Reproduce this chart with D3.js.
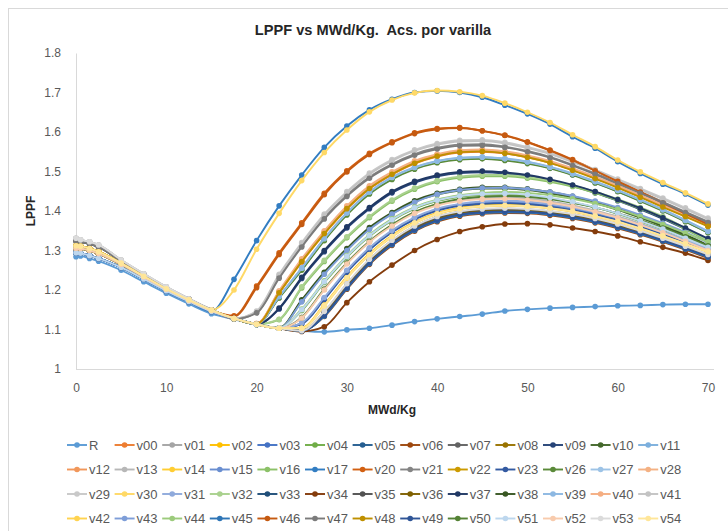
<!DOCTYPE html>
<html><head><meta charset="utf-8">
<script src="https://cdn.jsdelivr.net/npm/d3@7"></script>
<style>
body{margin:0;background:#fff}
svg{display:block}
text{font-family:"Liberation Sans",Arial,sans-serif}
</style></head>
<body><svg id="c" width="728" height="531"></svg>
<script>
const xValues = [0,0.5,1.5,2.5,5,7.5,10,12.5,15,17.5,20,22.5,25,27.5,30,32.5,35,37.5,40,42.5,45,47.5,50,52.5,55,57.5,60,62.5,65,67.5,70];
const xTicks = [0,10,20,30,40,50,60,70];
const yTicks = [1,1.1,1.2,1.3,1.4,1.5,1.6,1.7,1.8];

const R   = [1.284,1.286,1.280,1.273,1.250,1.221,1.192,1.165,1.140,1.126,1.112,1.103,1.097,1.094,1.099,1.103,1.111,1.120,1.127,1.133,1.139,1.147,1.151,1.154,1.156,1.158,1.160,1.161,1.163,1.164,1.164];
const v00 = [1.306,1.305,1.300,1.292,1.265,1.233,1.202,1.174,1.148,1.128,1.114,1.192,1.271,1.342,1.405,1.456,1.492,1.520,1.538,1.548,1.550,1.546,1.536,1.522,1.504,1.483,1.460,1.436,1.412,1.387,1.363];
const v01 = [1.325,1.322,1.317,1.309,1.273,1.239,1.206,1.177,1.150,1.128,1.113,1.103,1.097,1.144,1.214,1.276,1.324,1.360,1.384,1.397,1.403,1.405,1.403,1.398,1.390,1.379,1.365,1.348,1.329,1.309,1.288];
const v02 = [1.312,1.311,1.305,1.297,1.268,1.235,1.203,1.175,1.149,1.128,1.113,1.103,1.104,1.163,1.233,1.292,1.338,1.372,1.395,1.408,1.414,1.416,1.414,1.409,1.401,1.389,1.375,1.358,1.339,1.319,1.299];
const v03 = [1.294,1.293,1.287,1.280,1.257,1.228,1.198,1.171,1.146,1.128,1.113,1.181,1.252,1.327,1.392,1.445,1.482,1.508,1.524,1.532,1.534,1.530,1.522,1.509,1.492,1.472,1.450,1.426,1.401,1.374,1.346];
const v04 = [1.306,1.305,1.300,1.292,1.265,1.233,1.202,1.174,1.148,1.128,1.113,1.104,1.148,1.219,1.283,1.336,1.376,1.406,1.425,1.436,1.441,1.442,1.439,1.432,1.422,1.409,1.393,1.374,1.353,1.330,1.307];
const v05 = [1.294,1.293,1.287,1.280,1.257,1.228,1.198,1.171,1.146,1.128,1.113,1.103,1.097,1.137,1.207,1.270,1.318,1.354,1.378,1.392,1.398,1.400,1.399,1.394,1.386,1.375,1.361,1.345,1.327,1.307,1.286];
const v06 = [1.306,1.305,1.300,1.292,1.265,1.233,1.202,1.174,1.148,1.128,1.113,1.103,1.097,1.133,1.202,1.265,1.313,1.349,1.373,1.387,1.393,1.395,1.394,1.389,1.381,1.370,1.356,1.340,1.322,1.302,1.281];
const v07 = [1.325,1.322,1.317,1.309,1.273,1.239,1.206,1.177,1.150,1.128,1.113,1.103,1.097,1.145,1.215,1.277,1.325,1.361,1.385,1.398,1.404,1.406,1.404,1.399,1.391,1.380,1.366,1.349,1.330,1.310,1.289];
const v08 = [1.312,1.311,1.305,1.297,1.268,1.235,1.203,1.175,1.149,1.128,1.113,1.103,1.097,1.139,1.209,1.272,1.320,1.356,1.380,1.394,1.400,1.402,1.401,1.396,1.388,1.377,1.363,1.347,1.329,1.309,1.288];
const v09 = [1.294,1.293,1.287,1.280,1.257,1.228,1.198,1.171,1.146,1.128,1.113,1.152,1.229,1.297,1.357,1.406,1.446,1.472,1.488,1.496,1.498,1.495,1.488,1.477,1.463,1.446,1.426,1.404,1.380,1.354,1.327];
const v10 = [1.306,1.305,1.300,1.292,1.265,1.233,1.202,1.174,1.148,1.128,1.113,1.104,1.172,1.242,1.302,1.355,1.393,1.423,1.442,1.452,1.457,1.457,1.453,1.445,1.434,1.420,1.403,1.383,1.361,1.337,1.311];
const v11 = [1.294,1.293,1.287,1.280,1.257,1.228,1.198,1.171,1.146,1.128,1.113,1.182,1.254,1.329,1.394,1.447,1.484,1.509,1.525,1.533,1.535,1.531,1.523,1.510,1.493,1.473,1.451,1.427,1.402,1.375,1.347];
const v12 = [1.306,1.305,1.300,1.292,1.265,1.233,1.202,1.174,1.148,1.128,1.115,1.196,1.276,1.347,1.410,1.461,1.497,1.525,1.542,1.552,1.554,1.549,1.539,1.525,1.506,1.485,1.462,1.438,1.414,1.389,1.364];
const v13 = [1.331,1.327,1.322,1.314,1.276,1.241,1.208,1.178,1.150,1.128,1.114,1.104,1.131,1.203,1.269,1.324,1.365,1.397,1.417,1.428,1.433,1.434,1.431,1.424,1.414,1.401,1.386,1.368,1.348,1.326,1.303];
const v14 = [1.312,1.311,1.305,1.297,1.268,1.235,1.203,1.175,1.149,1.128,1.113,1.103,1.104,1.162,1.232,1.291,1.337,1.371,1.394,1.407,1.413,1.415,1.413,1.408,1.400,1.388,1.374,1.357,1.338,1.318,1.298];
const v15 = [1.294,1.293,1.287,1.280,1.257,1.228,1.198,1.171,1.146,1.128,1.113,1.103,1.116,1.179,1.248,1.305,1.349,1.382,1.404,1.416,1.421,1.423,1.420,1.414,1.405,1.393,1.379,1.362,1.343,1.323,1.303];
const v16 = [1.306,1.305,1.300,1.292,1.265,1.233,1.202,1.174,1.148,1.128,1.113,1.125,1.205,1.272,1.332,1.383,1.425,1.455,1.474,1.484,1.488,1.488,1.483,1.474,1.462,1.446,1.427,1.406,1.383,1.354,1.323];
const v17 = [1.294,1.293,1.287,1.280,1.257,1.228,1.198,1.171,1.146,1.227,1.325,1.413,1.491,1.561,1.615,1.656,1.683,1.700,1.704,1.700,1.688,1.668,1.646,1.620,1.588,1.559,1.525,1.495,1.468,1.443,1.415];
const v20 = [1.306,1.305,1.300,1.292,1.265,1.233,1.202,1.174,1.148,1.135,1.210,1.294,1.370,1.445,1.502,1.546,1.575,1.598,1.609,1.611,1.603,1.592,1.575,1.554,1.530,1.503,1.476,1.449,1.422,1.395,1.368];
const v21 = [1.325,1.322,1.317,1.309,1.273,1.239,1.206,1.177,1.150,1.127,1.143,1.233,1.312,1.383,1.440,1.486,1.519,1.544,1.560,1.568,1.569,1.563,1.552,1.537,1.517,1.495,1.471,1.447,1.423,1.398,1.373];
const v22 = [1.312,1.311,1.305,1.297,1.268,1.235,1.203,1.175,1.149,1.128,1.114,1.194,1.274,1.345,1.408,1.459,1.495,1.523,1.541,1.551,1.553,1.548,1.538,1.524,1.505,1.484,1.461,1.437,1.412,1.388,1.362];
const v23 = [1.294,1.293,1.287,1.280,1.257,1.228,1.198,1.171,1.146,1.128,1.113,1.103,1.114,1.176,1.245,1.302,1.346,1.379,1.401,1.413,1.418,1.420,1.417,1.411,1.402,1.390,1.376,1.359,1.340,1.320,1.299];
const v26 = [1.306,1.305,1.300,1.292,1.265,1.233,1.202,1.174,1.148,1.128,1.113,1.180,1.250,1.325,1.390,1.443,1.480,1.506,1.522,1.530,1.532,1.528,1.520,1.508,1.491,1.471,1.449,1.425,1.400,1.373,1.345];
const v27 = [1.294,1.293,1.287,1.280,1.257,1.228,1.198,1.171,1.146,1.128,1.113,1.183,1.255,1.330,1.395,1.448,1.485,1.510,1.526,1.534,1.536,1.532,1.524,1.511,1.494,1.474,1.452,1.428,1.403,1.376,1.348];
const v28 = [1.306,1.305,1.300,1.292,1.265,1.233,1.202,1.174,1.148,1.128,1.115,1.198,1.279,1.350,1.413,1.464,1.499,1.527,1.544,1.554,1.556,1.551,1.541,1.527,1.508,1.487,1.464,1.440,1.415,1.391,1.366];
const v29 = [1.331,1.327,1.322,1.314,1.276,1.241,1.208,1.178,1.150,1.128,1.147,1.240,1.320,1.392,1.449,1.496,1.530,1.555,1.571,1.579,1.580,1.574,1.562,1.547,1.527,1.505,1.481,1.457,1.433,1.408,1.382];
const v30 = [1.312,1.311,1.305,1.297,1.268,1.235,1.203,1.175,1.149,1.200,1.303,1.394,1.477,1.548,1.605,1.651,1.681,1.699,1.705,1.702,1.692,1.673,1.650,1.624,1.593,1.563,1.529,1.499,1.472,1.446,1.418];
const v31 = [1.294,1.293,1.287,1.280,1.257,1.228,1.198,1.171,1.146,1.128,1.113,1.103,1.117,1.181,1.250,1.307,1.351,1.384,1.406,1.418,1.424,1.426,1.424,1.418,1.409,1.397,1.383,1.366,1.347,1.326,1.305];
const v32 = [1.306,1.305,1.300,1.292,1.265,1.233,1.202,1.174,1.148,1.128,1.113,1.126,1.208,1.275,1.335,1.386,1.428,1.458,1.477,1.487,1.491,1.491,1.486,1.477,1.465,1.449,1.430,1.409,1.386,1.357,1.326];
const v33 = [1.294,1.293,1.287,1.280,1.257,1.228,1.198,1.171,1.146,1.128,1.113,1.103,1.097,1.135,1.205,1.268,1.316,1.352,1.376,1.390,1.396,1.398,1.397,1.392,1.384,1.373,1.359,1.343,1.325,1.305,1.284];
const v34 = [1.306,1.305,1.300,1.292,1.265,1.233,1.202,1.174,1.148,1.128,1.113,1.103,1.095,1.107,1.168,1.221,1.263,1.300,1.328,1.348,1.360,1.367,1.368,1.365,1.357,1.348,1.337,1.322,1.308,1.293,1.275];
const v35 = [1.325,1.322,1.317,1.309,1.273,1.239,1.206,1.177,1.150,1.128,1.113,1.103,1.097,1.143,1.213,1.275,1.323,1.359,1.383,1.396,1.402,1.404,1.402,1.397,1.389,1.378,1.364,1.347,1.328,1.308,1.287];
const v36 = [1.312,1.311,1.305,1.297,1.268,1.235,1.203,1.175,1.149,1.128,1.113,1.103,1.097,1.138,1.208,1.271,1.319,1.355,1.379,1.393,1.399,1.401,1.400,1.395,1.387,1.376,1.362,1.346,1.328,1.308,1.287];
const v37 = [1.294,1.293,1.287,1.280,1.257,1.228,1.198,1.171,1.146,1.128,1.113,1.154,1.232,1.300,1.360,1.409,1.449,1.475,1.491,1.499,1.501,1.498,1.491,1.480,1.466,1.449,1.429,1.407,1.383,1.357,1.330];
const v38 = [1.306,1.305,1.300,1.292,1.265,1.233,1.202,1.174,1.148,1.128,1.113,1.104,1.175,1.245,1.305,1.358,1.396,1.426,1.445,1.455,1.460,1.460,1.456,1.448,1.437,1.423,1.406,1.386,1.364,1.340,1.313];
const v39 = [1.294,1.293,1.287,1.280,1.257,1.228,1.198,1.171,1.146,1.128,1.113,1.184,1.256,1.331,1.396,1.449,1.486,1.511,1.527,1.535,1.537,1.533,1.525,1.512,1.495,1.475,1.453,1.429,1.404,1.377,1.349];
const v40 = [1.306,1.305,1.300,1.292,1.265,1.233,1.202,1.174,1.148,1.128,1.114,1.195,1.275,1.346,1.409,1.460,1.496,1.524,1.541,1.551,1.553,1.548,1.538,1.524,1.506,1.485,1.462,1.438,1.413,1.389,1.365];
const v41 = [1.331,1.327,1.322,1.314,1.276,1.241,1.208,1.178,1.150,1.128,1.145,1.237,1.317,1.389,1.446,1.493,1.527,1.552,1.568,1.576,1.577,1.571,1.559,1.544,1.524,1.502,1.478,1.454,1.430,1.405,1.379];
const v42 = [1.312,1.311,1.305,1.297,1.268,1.235,1.203,1.175,1.149,1.128,1.113,1.103,1.103,1.160,1.230,1.289,1.335,1.369,1.392,1.405,1.411,1.413,1.411,1.406,1.398,1.386,1.372,1.355,1.336,1.316,1.296];
const v43 = [1.294,1.293,1.287,1.280,1.257,1.228,1.198,1.171,1.146,1.128,1.113,1.104,1.170,1.240,1.300,1.353,1.392,1.422,1.442,1.453,1.458,1.459,1.455,1.448,1.438,1.425,1.409,1.390,1.369,1.346,1.320];
const v44 = [1.306,1.305,1.300,1.292,1.265,1.233,1.202,1.174,1.148,1.128,1.113,1.104,1.152,1.223,1.287,1.340,1.380,1.410,1.429,1.440,1.446,1.448,1.446,1.440,1.431,1.419,1.404,1.386,1.366,1.344,1.322];
const v45 = [1.294,1.293,1.287,1.280,1.257,1.228,1.198,1.171,1.146,1.128,1.113,1.103,1.097,1.134,1.204,1.267,1.315,1.351,1.375,1.389,1.395,1.397,1.396,1.391,1.383,1.372,1.358,1.342,1.324,1.304,1.283];
const v46 = [1.306,1.305,1.300,1.292,1.265,1.233,1.202,1.174,1.148,1.133,1.206,1.290,1.366,1.441,1.499,1.543,1.573,1.596,1.607,1.610,1.603,1.591,1.574,1.553,1.529,1.502,1.475,1.448,1.420,1.393,1.366];
const v47 = [1.325,1.322,1.317,1.309,1.273,1.239,1.206,1.177,1.150,1.127,1.142,1.230,1.309,1.380,1.437,1.483,1.516,1.541,1.557,1.565,1.566,1.561,1.550,1.535,1.515,1.493,1.469,1.445,1.421,1.396,1.371];
const v48 = [1.312,1.311,1.305,1.297,1.268,1.235,1.203,1.175,1.149,1.128,1.114,1.193,1.272,1.343,1.406,1.457,1.493,1.521,1.539,1.549,1.551,1.546,1.536,1.522,1.503,1.482,1.459,1.435,1.410,1.386,1.361];
const v49 = [1.294,1.293,1.287,1.280,1.257,1.228,1.198,1.171,1.146,1.128,1.113,1.103,1.097,1.136,1.206,1.269,1.317,1.353,1.377,1.391,1.397,1.399,1.398,1.393,1.385,1.374,1.360,1.344,1.326,1.306,1.285];
const v50 = [1.306,1.305,1.300,1.292,1.265,1.233,1.202,1.174,1.148,1.128,1.113,1.103,1.130,1.202,1.268,1.323,1.365,1.397,1.418,1.430,1.436,1.438,1.436,1.430,1.421,1.409,1.394,1.377,1.357,1.335,1.312];
const v51 = [1.294,1.293,1.287,1.280,1.257,1.228,1.198,1.171,1.146,1.128,1.113,1.104,1.150,1.221,1.285,1.338,1.378,1.408,1.427,1.438,1.443,1.444,1.441,1.434,1.423,1.410,1.394,1.375,1.354,1.331,1.308];
const v52 = [1.306,1.305,1.300,1.292,1.265,1.233,1.202,1.174,1.148,1.128,1.113,1.103,1.129,1.200,1.266,1.321,1.362,1.394,1.414,1.425,1.430,1.431,1.428,1.421,1.411,1.398,1.383,1.365,1.345,1.323,1.300];
const v53 = [1.331,1.327,1.322,1.314,1.276,1.241,1.208,1.178,1.150,1.128,1.113,1.103,1.097,1.146,1.216,1.278,1.326,1.362,1.386,1.399,1.405,1.407,1.405,1.400,1.392,1.381,1.367,1.350,1.331,1.311,1.290];
const v54 = [1.312,1.311,1.305,1.297,1.268,1.235,1.203,1.175,1.149,1.128,1.113,1.103,1.103,1.161,1.231,1.290,1.336,1.370,1.393,1.406,1.412,1.414,1.412,1.407,1.399,1.387,1.373,1.356,1.337,1.317,1.297];

const seriesNames = ["R","v00","v01","v02","v03","v04","v05","v06","v07","v08","v09","v10","v11",
  "v12","v13","v14","v15","v16","v17","v20","v21","v22","v23","v26","v27","v28",
  "v29","v30","v31","v32","v33","v34","v35","v36","v37","v38","v39","v40","v41",
  "v42","v43","v44","v45","v46","v47","v48","v49","v50","v51","v52","v53","v54"];
const seriesValues = [R,v00,v01,v02,v03,v04,v05,v06,v07,v08,v09,v10,v11,
  v12,v13,v14,v15,v16,v17,v20,v21,v22,v23,v26,v27,v28,
  v29,v30,v31,v32,v33,v34,v35,v36,v37,v38,v39,v40,v41,
  v42,v43,v44,v45,v46,v47,v48,v49,v50,v51,v52,v53,v54];
const seriesColors = ["#5B9BD5","#ED7D31","#A5A5A5","#FFC000","#4472C4","#70AD47","#255E91","#9E480E","#636363","#997300","#264478","#43682B","#7CAFDD",
  "#F1975A","#B7B7B7","#FFCD33","#698ED0","#8CC168","#327DC2","#D26012","#848484","#CC9A00","#335AA1","#5A8A39","#9DC3E6","#F4B183",
  "#C9C9C9","#FFD966","#8FAADC","#A9D18E","#1F4E79","#843C0C","#525252","#7F6000","#203864","#385723","#8DB8E2","#F5AE82","#C3C3C3",
  "#FFD34F","#7E9ED8","#9CCB7C","#2E75B6","#C55A11","#7B7B7B","#BF9000","#2F5597","#548235","#BDD7EE","#F8CBAD","#DBDBDB","#FFE699"];

const svg = d3.select("#c");
svg.append("rect").attr("x",8.5).attr("y",8.5).attr("width",740).attr("height",540)
  .attr("fill","#fff").attr("stroke","#d9d9d9");

const x = d3.scaleLinear().domain([0,70]).range([76,708]);
const y = d3.scaleLinear().domain([1,1.8]).range([369,53]);

svg.append("text").attr("x",373).attr("y",35).attr("text-anchor","middle")
  .attr("font-size",14.6).attr("font-weight","bold").attr("fill","#262626")
  .style("white-space","pre").text("LPPF vs MWd/Kg.  Acs. por varilla");

// axes
const ya = svg.append("g").attr("transform","translate(76,0)")
  .call(d3.axisLeft(y).tickValues(yTicks).tickSize(0).tickPadding(15)
    .tickFormat(d => d===1 ? "1" : d3.format(".1f")(d)));
ya.select(".domain").attr("stroke","#d9d9d9");
ya.selectAll("text").attr("font-size",12).attr("fill","#595959").style("font-family","'Liberation Sans',Arial,sans-serif");

const xa = svg.append("g").attr("transform","translate(0,369)")
  .call(d3.axisBottom(x).tickValues(xTicks).tickSize(0).tickPadding(14));
xa.select(".domain").remove();
xa.selectAll("text").attr("font-size",12).attr("fill","#595959").style("font-family","'Liberation Sans',Arial,sans-serif");
svg.append("line").attr("x1",76).attr("x2",714).attr("y1",369.5).attr("y2",369.5).attr("stroke","#d9d9d9");

svg.append("text").attr("transform","translate(35,211) rotate(-90)").attr("text-anchor","middle")
  .attr("font-size",12).attr("font-weight","bold").attr("fill","#262626").text("LPPF");
svg.append("text").attr("x",392).attr("y",414).attr("text-anchor","middle")
  .attr("font-size",12).attr("font-weight","bold").attr("fill","#262626").text("MWd/Kg");

// series
const line = d3.line().x(d => x(d[0])).y(d => y(d[1])).curve(d3.curveMonotoneX);
const plot = svg.append("g");
seriesValues.forEach((vals, i) => {
  const pts = xValues.map((xv, j) => [xv, vals[j]]).filter(p => p[1] != null);
  const g = plot.append("g");
  g.append("path").datum(pts).attr("d", line).attr("fill","none")
    .attr("stroke", seriesColors[i]).attr("stroke-width",1.9);
  g.selectAll("circle").data(pts).join("circle")
    .attr("cx", d => x(d[0])).attr("cy", d => y(d[1])).attr("r",2.8)
    .attr("fill", seriesColors[i]);
});

// legend
const rowsY = [445, 469.5, 494, 518.5];
const leg = svg.append("g");
seriesNames.forEach((name, i) => {
  const row = Math.floor(i / 13), col = i % 13;
  const x0 = 67 + col * 47.6, yy = rowsY[row];
  const g = leg.append("g");
  g.append("line").attr("x1",x0).attr("x2",x0+20).attr("y1",yy).attr("y2",yy)
    .attr("stroke",seriesColors[i]).attr("stroke-width",1.9);
  g.append("circle").attr("cx",x0+10).attr("cy",yy).attr("r",2.8).attr("fill",seriesColors[i]);
  g.append("text").attr("x",x0+22).attr("y",yy+4.5).attr("font-size",13)
    .attr("fill","#595959").text(name);
});
</script></body></html>
